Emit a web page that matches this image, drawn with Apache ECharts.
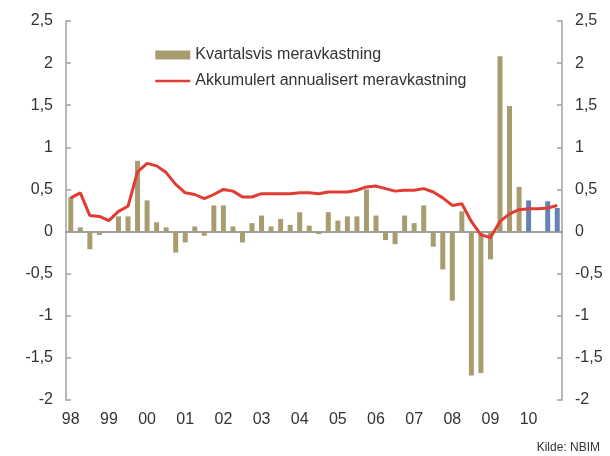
<!DOCTYPE html>
<html lang="no">
<head>
    <meta charset="UTF-8">
    <title>Meravkastning</title>
    <script src="https://cdn.jsdelivr.net/npm/echarts@6/dist/echarts.min.js"></script>
</head>
<body style="margin:0;">
<div id="main" style="width:610px;height:456px;"></div>
<script type="text/javascript">
    // år og kvartaler
    var years = ['98', '99', '00', '01', '02', '03', '04', '05', '06', '07', '08', '09', '10'];
    var quarters = ['K1', 'K2', 'K3', 'K4'];

    // kvartalsvis meravkastning, prosentpoeng
    var quarterly = [
        0.41, 0.05, -0.21, -0.04,
        0.00, 0.18, 0.18, 0.84,
        0.37, 0.11, 0.05, -0.25,
        -0.13, 0.06, -0.05, 0.31,
        0.31, 0.06, -0.13, 0.10,
        0.19, 0.06, 0.15, 0.08,
        0.23, 0.07, -0.03, 0.23,
        0.13, 0.18, 0.18, 0.50,
        0.19, -0.10, -0.15, 0.19,
        0.10, 0.31, -0.18, -0.45,
        -0.82, 0.24, -1.71, -1.68,
        -0.33, 2.08, 1.49, 0.53,
        0.37, 0.00, 0.36, 0.28
    ];

    // akkumulert annualisert meravkastning
    var accumulated = [
        0.40, 0.46, 0.19, 0.18,
        0.13, 0.24, 0.30, 0.71,
        0.81, 0.78, 0.70, 0.56,
        0.46, 0.44, 0.39, 0.44,
        0.50, 0.48, 0.41, 0.41,
        0.45, 0.45, 0.45, 0.45,
        0.46, 0.46, 0.45, 0.47,
        0.47, 0.47, 0.49, 0.53,
        0.54, 0.51, 0.48, 0.49,
        0.49, 0.51, 0.47, 0.40,
        0.31, 0.33, 0.12, -0.04,
        -0.07, 0.12, 0.21, 0.26,
        0.27, 0.27, 0.28, 0.31
    ];

    var categories = [];
    for (var i = 0; i < years.length; i++) {
        for (var j = 0; j < quarters.length; j++) {
            categories.push(years[i] + ' ' + quarters[j]);
        }
    }

    var barColor = '#a89d70';
    var blueColor = '#6583b1';
    var lineColor = '#e03c33';
    var axisColor = '#a0a0a0';
    var font = '"Liberation Sans", Arial, sans-serif';

    function comma(v) {
        return String(v).replace('.', ',');
    }

    var yAxisBase = {
        type: 'value',
        min: -2,
        max: 2.5,
        interval: 0.5,
        splitLine: {show: false},
        axisLine: {show: true, lineStyle: {color: axisColor, width: 1.5}},
        axisTick: {show: true, inside: true, length: 5, lineStyle: {color: axisColor, width: 1.5}},
        axisLabel: {
            color: '#333',
            fontSize: 16,
            fontFamily: font,
            margin: 13,
            formatter: comma
        }
    };

    var myChart = echarts.init(document.getElementById('main'));
    var option = {
        animation: false,
        grid: {left: 66, right: 48, top: 21, bottom: 56},
        legend: {
            orient: 'vertical',
            left: 154,
            top: 47,
            padding: 0,
            itemWidth: 35,
            itemHeight: 9,
            itemGap: 10,
            textStyle: {color: '#333', fontSize: 16, fontFamily: font},
            data: [
                {name: 'Kvartalsvis meravkastning', icon: 'rect', itemStyle: {color: barColor}},
                {name: 'Akkumulert annualisert meravkastning', itemStyle: {opacity: 0}, lineStyle: {color: lineColor, width: 2.5}}
            ]
        },
        xAxis: [
            {
                type: 'category',
                data: categories,
                position: 'bottom',
                axisLine: {show: false},
                axisTick: {show: false},
                axisLabel: {
                    interval: 3,
                    color: '#333',
                    fontSize: 16,
                    fontFamily: font,
                    margin: 12,
                    formatter: function (v) { return v.slice(0, 2); }
                }
            },
            {
                type: 'category',
                data: categories,
                axisLine: {show: true, onZero: true, lineStyle: {color: axisColor, width: 2}},
                axisTick: {show: false},
                axisLabel: {show: false}
            }
        ],
        yAxis: [
            yAxisBase,
            Object.assign({}, yAxisBase, {position: 'right'})
        ],
        series: [
            {
                name: 'Kvartalsvis meravkastning',
                type: 'bar',
                barWidth: 5,
                itemStyle: {
                    color: function (p) {
                        return p.dataIndex >= 48 ? blueColor : barColor;
                    }
                },
                data: quarterly
            },
            {
                name: 'Akkumulert annualisert meravkastning',
                type: 'line',
                symbol: 'none',
                lineStyle: {color: lineColor, width: 3},
                itemStyle: {color: lineColor},
                data: accumulated
            }
        ],
        graphic: [
            {
                type: 'text',
                right: 10,
                top: 442,
                style: {text: 'Kilde: NBIM', fill: '#333', fontSize: 12, fontFamily: font}
            }
        ]
    };
    myChart.setOption(option);
</script>
</body>
</html>
